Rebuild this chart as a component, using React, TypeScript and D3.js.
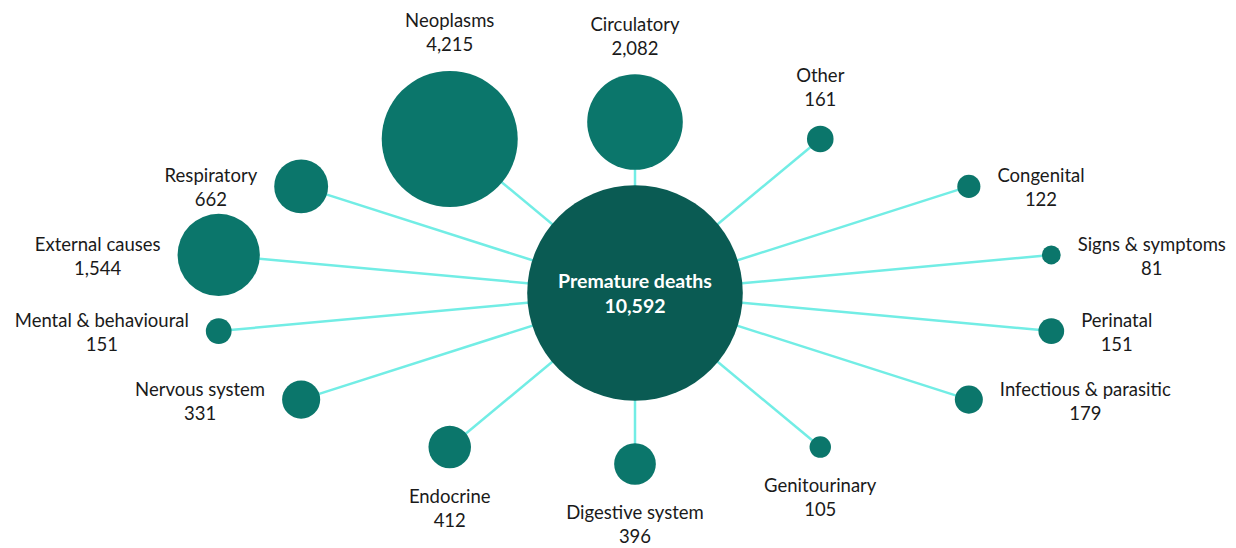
import React, { useEffect, useRef } from "react";
import * as d3 from "d3";

const categories = [
  "Circulatory",
  "Other",
  "Congenital",
  "Signs & symptoms",
  "Perinatal",
  "Infectious & parasitic",
  "Genitourinary",
  "Digestive system",
  "Endocrine",
  "Nervous system",
  "Mental & behavioural",
  "External causes",
  "Respiratory",
  "Neoplasms",
];
const deaths = [2082, 161, 122, 81, 151, 179, 105, 396, 412, 331, 151, 1544, 662, 4215];
const totalLabel = "Premature deaths";
const totalValue = 10592;

const W = 1236;
const H = 548;
const FONT = "Lato, 'Open Sans', sans-serif";

export default function App() {
  const ref = useRef<SVGSVGElement | null>(null);

  useEffect(() => {
    const svg = d3.select(ref.current);
    svg.selectAll("*").remove();

    const cx = 635;
    const cy = 293;
    const rx = 427;
    const ry = 171;
    const r = d3.scaleSqrt().domain([0, totalValue]).range([0, 107.8]);
    const fmt = d3.format(",");
    const angle = d3
      .scaleLinear()
      .domain([0, categories.length])
      .range([-Math.PI / 2, (3 * Math.PI) / 2]);

    const nodes = categories.map((c, i) => {
      const a = angle(i);
      return {
        name: c,
        value: deaths[i],
        a,
        x: cx + rx * Math.cos(a),
        y: cy + ry * Math.sin(a),
        r: r(deaths[i]),
      };
    });

    svg
      .append("g")
      .selectAll("line")
      .data(nodes)
      .join("line")
      .attr("x1", cx)
      .attr("y1", cy)
      .attr("x2", (d) => d.x)
      .attr("y2", (d) => d.y)
      .attr("stroke", "#72EDE5")
      .attr("stroke-width", 2.5);

    svg
      .append("circle")
      .attr("cx", cx)
      .attr("cy", cy)
      .attr("r", r(totalValue))
      .attr("fill", "#0A5B53");

    svg
      .append("g")
      .selectAll("circle")
      .data(nodes)
      .join("circle")
      .attr("cx", (d) => d.x)
      .attr("cy", (d) => d.y)
      .attr("r", (d) => d.r)
      .attr("fill", "#0B766B");

    const ct = svg
      .append("text")
      .attr("text-anchor", "middle")
      .attr("fill", "#ffffff")
      .attr("font-family", FONT)
      .attr("font-weight", "bold")
      .attr("font-size", 19.5);
    ct.append("tspan").attr("x", cx).attr("y", cy - 12).attr("dy", "0.35em").text(totalLabel);
    ct.append("tspan").attr("x", cx).attr("y", cy + 13).attr("dy", "0.35em").text(fmt(totalValue));

    const gap = 17;
    nodes.forEach((d) => {
      const s = Math.sin(d.a);
      const c = Math.cos(d.a);
      const g = svg
        .append("g")
        .attr("font-family", FONT)
        .attr("font-size", 18.5)
        .attr("fill", "#1a1a1a")
        .attr("text-anchor", "middle");
      const t1 = g.append("text").attr("dy", "0.35em").text(d.name);
      const t2 = g.append("text").attr("dy", "0.35em").text(fmt(d.value));
      const w = Math.max(
        (t1.node() as SVGTextElement).getComputedTextLength(),
        (t2.node() as SVGTextElement).getComputedTextLength()
      );
      let lx: number;
      let y1: number;
      if (Math.abs(s) > 0.85) {
        lx = d.x;
        if (s < 0) {
          y1 = d.y - d.r - 50;
        } else {
          y1 = d.y + d.r + 28;
        }
      } else {
        lx = c > 0 ? d.x + d.r + gap + w / 2 : d.x - d.r - gap - w / 2;
        y1 = d.y - 10.5;
      }
      t1.attr("x", lx).attr("y", y1);
      t2.attr("x", lx).attr("y", y1 + 24);
    });
  }, []);

  return (
    <svg
      ref={ref}
      width={W}
      height={H}
      style={{ position: "absolute", left: 0, top: 0, background: "#fff" }}
    />
  );
}
